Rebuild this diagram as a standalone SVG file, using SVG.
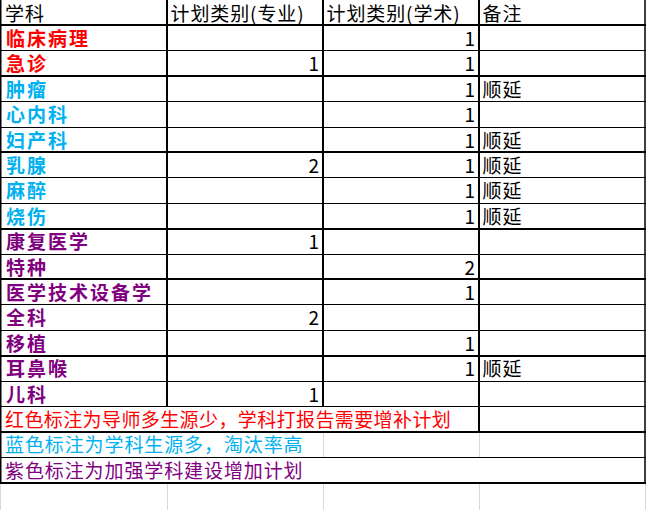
<svg xmlns="http://www.w3.org/2000/svg" width="647" height="510" viewBox="0 0 647 510">
<style>
text{font-family:"Noto Sans CJK SC","Noto Sans",sans-serif;font-size:19px;}
.t{fill:#000;letter-spacing:0.9px;}
.n{fill:#000;text-anchor:end;}
.b{font-weight:bold;letter-spacing:2px;}
.red{fill:#FF0000;}
.cy{fill:#00B0F0;}
.pu{fill:#800080;}
.thin{stroke:#000;stroke-width:1;}
.thick{stroke:#000;stroke-width:2;}
.gray{stroke:#D0D7E5;stroke-width:1;}
</style>
<rect width="647" height="510" fill="#fff"/>
<g id="connectors">
<line class="gray" x1="323.5" y1="433" x2="323.5" y2="457"/>
<line class="gray" x1="479.5" y1="433" x2="479.5" y2="457"/>
<line class="gray" x1="0.5" y1="484" x2="0.5" y2="510"/>
<line class="gray" x1="167.5" y1="484" x2="167.5" y2="510"/>
<line class="gray" x1="323.5" y1="484" x2="323.5" y2="510"/>
<line class="gray" x1="479.5" y1="484" x2="479.5" y2="510"/>
<line class="gray" x1="645.5" y1="484" x2="645.5" y2="510"/>
<line class="thick" x1="0" y1="25" x2="646" y2="25"/>
<line class="thin" x1="0" y1="50.5" x2="646" y2="50.5"/>
<line class="thick" x1="0" y1="76" x2="646" y2="76"/>
<line class="thin" x1="0" y1="101.5" x2="646" y2="101.5"/>
<line class="thin" x1="0" y1="127.5" x2="646" y2="127.5"/>
<line class="thick" x1="0" y1="152" x2="646" y2="152"/>
<line class="thin" x1="0" y1="177.5" x2="646" y2="177.5"/>
<line class="thin" x1="0" y1="203.5" x2="646" y2="203.5"/>
<line class="thick" x1="0" y1="229" x2="646" y2="229"/>
<line class="thin" x1="0" y1="254.5" x2="646" y2="254.5"/>
<line class="thick" x1="0" y1="279" x2="646" y2="279"/>
<line class="thin" x1="0" y1="304.5" x2="646" y2="304.5"/>
<line class="thin" x1="0" y1="330.5" x2="646" y2="330.5"/>
<line class="thick" x1="0" y1="356" x2="646" y2="356"/>
<line class="thin" x1="0" y1="381.5" x2="646" y2="381.5"/>
<line class="thin" x1="0" y1="406.5" x2="646" y2="406.5"/>
<line class="thick" x1="0" y1="432" x2="646" y2="432"/>
<line class="thin" x1="0" y1="457.5" x2="646" y2="457.5"/>
<line class="thick" x1="0" y1="483" x2="646" y2="483"/>
<line class="thin" x1="0.75" y1="0" x2="0.75" y2="484" style="stroke-width:1.5"/>
<line class="thick" x1="167" y1="0" x2="167" y2="406.5"/>
<line class="thick" x1="323" y1="0" x2="323" y2="406.5"/>
<line class="thick" x1="479" y1="0" x2="479" y2="432"/>
<line class="thin" x1="645" y1="0" x2="645" y2="484" style="stroke-width:1.5"/>
</g>
<g id="header">
<text class="t" x="5" y="20.5">学科</text>
<text class="t" x="170.5" y="20.5">计划类别(专业)</text>
<text class="t" x="326.5" y="20.5">计划类别(学术)</text>
<text class="t" x="482.5" y="20.5">备注</text>
</g>
<g id="row-linchuangbingli"><text class="b red" x="6" y="46">临床病理</text><text class="n" x="475" y="46">1</text></g>
<g id="row-jizhen"><text class="b red" x="6" y="71.4">急诊</text><text class="n" x="319" y="71.4">1</text><text class="n" x="475" y="71.4">1</text></g>
<g id="row-zhongliu"><text class="b cy" x="6" y="96.8">肿瘤</text><text class="n" x="475" y="96.8">1</text><text class="t" x="482.5" y="96.8">顺延</text></g>
<g id="row-xinneike"><text class="b cy" x="6" y="122.2">心内科</text><text class="n" x="475" y="122.2">1</text></g>
<g id="row-fuchanke"><text class="b cy" x="6" y="147.6">妇产科</text><text class="n" x="475" y="147.6">1</text><text class="t" x="482.5" y="147.6">顺延</text></g>
<g id="row-ruxian"><text class="b cy" x="6" y="173">乳腺</text><text class="n" x="319" y="173">2</text><text class="n" x="475" y="173">1</text><text class="t" x="482.5" y="173">顺延</text></g>
<g id="row-mazui"><text class="b cy" x="6" y="198.4">麻醉</text><text class="n" x="475" y="198.4">1</text><text class="t" x="482.5" y="198.4">顺延</text></g>
<g id="row-shaoshang"><text class="b cy" x="6" y="223.8">烧伤</text><text class="n" x="475" y="223.8">1</text><text class="t" x="482.5" y="223.8">顺延</text></g>
<g id="row-kangfu"><text class="b pu" x="6" y="249.2">康复医学</text><text class="n" x="319" y="249.2">1</text></g>
<g id="row-tezhong"><text class="b pu" x="6" y="274.6">特种</text><text class="n" x="475" y="274.6">2</text></g>
<g id="row-yixuejishu"><text class="b pu" x="6" y="300">医学技术设备学</text><text class="n" x="475" y="300">1</text></g>
<g id="row-quanke"><text class="b pu" x="6" y="325.4">全科</text><text class="n" x="319" y="325.4">2</text></g>
<g id="row-yizhi"><text class="b pu" x="6" y="350.8">移植</text><text class="n" x="475" y="350.8">1</text></g>
<g id="row-erbihou"><text class="b pu" x="6" y="376.2">耳鼻喉</text><text class="n" x="475" y="376.2">1</text><text class="t" x="482.5" y="376.2">顺延</text></g>
<g id="row-erke"><text class="b pu" x="6" y="401.6">儿科</text><text class="n" x="319" y="401.6">1</text></g>
<g id="note-red"><text class="t red" x="5" y="427" style="letter-spacing:0.4px">红色标注为导师多生源少，学科打报告需要增补计划</text></g>
<g id="note-blue"><text class="t cy" x="5" y="452.4">蓝色标注为学科生源多，淘汰率高</text></g>
<g id="note-purple"><text class="t pu" x="5" y="477.8">紫色标注为加强学科建设增加计划</text></g>
</svg>
